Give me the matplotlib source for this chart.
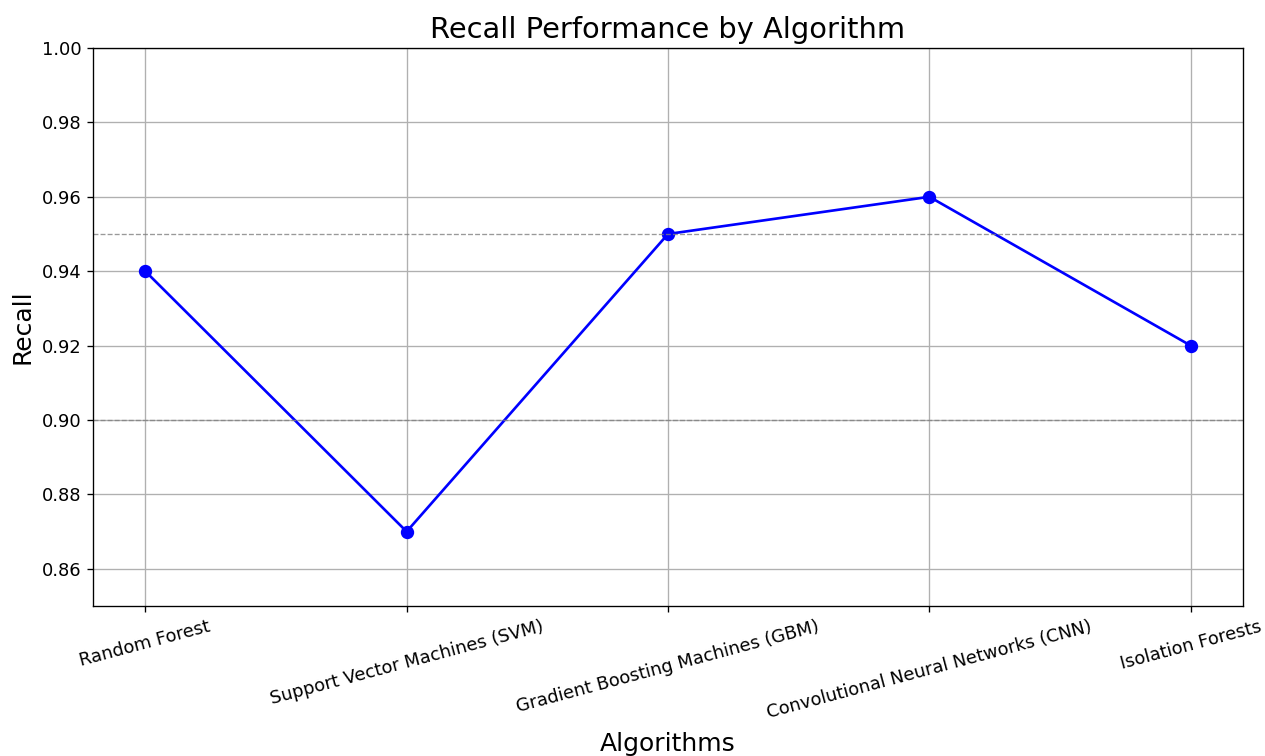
import matplotlib
matplotlib.use("Agg")
import matplotlib.pyplot as plt

algorithms = ["Random Forest", "Support Vector Machines (SVM)",
              "Gradient Boosting Machines (GBM)",
              "Convolutional Neural Networks (CNN)", "Isolation Forests"]
recall = [0.94, 0.87, 0.95, 0.96, 0.92]
ref_lines = [0.95, 0.90]

W, H, DPI = 1265, 756, 120
fig = plt.figure(figsize=(W / DPI, H / DPI), dpi=DPI)
ax = fig.add_axes([93 / W, 1 - 606 / H, (1243 - 93) / W, (606 - 48) / H])

ax.plot(algorithms, recall, marker='o', color='blue', linewidth=1.6, markersize=7)
for y in ref_lines:
    ax.axhline(y, color='gray', linestyle='--', linewidth=0.8, alpha=0.8)
ax.set_ylim(0.85, 1.00)
ax.grid(True)
ax.tick_params(labelsize=10.7)
ax.set_title("Recall Performance by Algorithm", fontsize=17.3)
ax.set_xlabel("Algorithms", fontsize=15, labelpad=6)
ax.set_ylabel("Recall", fontsize=15)
plt.setp(ax.get_xticklabels(), rotation=15, ha='center')

fig.savefig("out.png", dpi=DPI)
